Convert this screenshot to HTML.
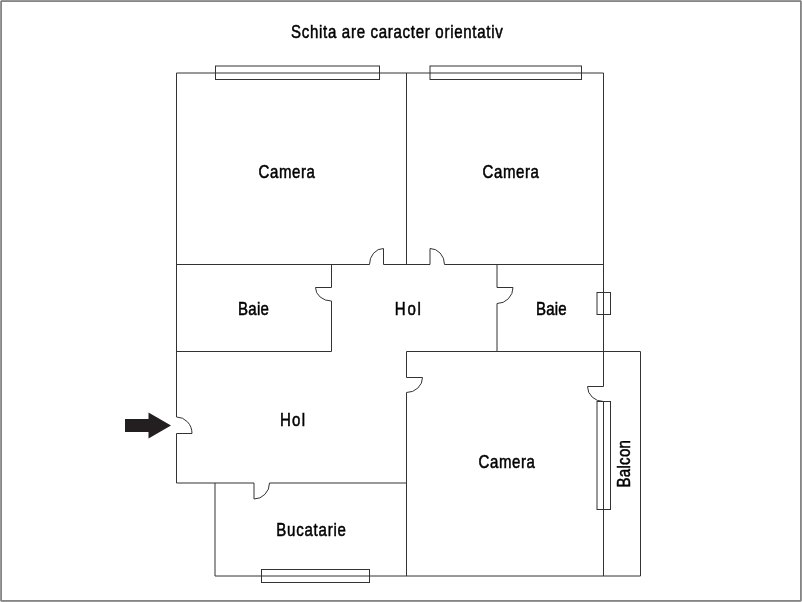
<!DOCTYPE html>
<html><head><meta charset="utf-8"><style>
html,body{margin:0;padding:0;background:#fff;}
body{width:802px;height:602px;overflow:hidden;}
svg{display:block;will-change:transform;}
text{font-family:"Liberation Sans",sans-serif;font-size:17.5px;fill:#000;stroke:#000;stroke-width:0.5px;}
</style></head><body>
<svg width="802" height="602" viewBox="0 0 802 602">
<rect x="0.5" y="0.5" width="801" height="601" fill="#fff" stroke="#979797" stroke-width="1"/><rect x="1.5" y="1.5" width="799" height="599" fill="none" stroke="#858585" stroke-width="1"/><g fill="#e8e8e8"><rect x="0" y="0" width="1" height="1"/><rect x="801" y="0" width="1" height="1"/><rect x="0" y="601" width="1" height="1"/><rect x="801" y="601" width="1" height="1"/></g>
<g fill="none" stroke="#333" stroke-width="1">
<path d="M176.5 73L603.5 73M176.5 73L176.5 417M176.5 433.5L176.5 483M603.5 73L603.5 386.5M603.5 401.5L603.5 576M406.5 73L406.5 264.5M176.5 264.5L369.5 264.5M383.5 264.5L430 264.5M444.5 264.5L603.5 264.5M331.5 264.5L331.5 287.5M331.5 301L331.5 351.5M176.5 351.5L331.5 351.5M497 264.5L497 287.5M497 303.5L497 351.5M406.5 351.5L640.5 351.5M406.5 351.5L406.5 377.5M406.5 392.5L406.5 576M640.5 351.5L640.5 576M176.5 483L254 483M269.5 483L406.5 483M215 483L215 576M215 576L640.5 576"/>
<rect x="215.5" y="66" width="164.0" height="13.5"/><rect x="430" y="66" width="151.5" height="13.5"/><rect x="597" y="292.5" width="13.5" height="22.0"/><rect x="597" y="401.5" width="13.5" height="108.0"/><rect x="261.5" y="569.5" width="108.0" height="13.0"/>
<path d="M383.5 264.5L383.5 248.5A14.0 16.0 0 0 0 369.5 264.5M430 264.5L430 248.5A14.5 16.0 0 0 1 444.5 264.5M331.5 287.5L315.5 287.5A16.0 13.5 0 0 0 331.5 301M497 287.5L513 287.5A16 16.0 0 0 1 497 303.5M406.5 377.5L422.5 377.5A16.0 15.0 0 0 1 406.5 392.5M603.5 386.5L587.5 386.5A16.0 15.0 0 0 0 603.5 401.5M176.5 433.5L192 433.5A15.5 16.5 0 0 0 176.5 417M254 483L254 499A15.5 16 0 0 0 269.5 483"/>
</g>
<path d="M125 419H148.5V412.5L171 425.5L148.5 438.5V432H125Z" fill="#231f20"/>
<text x="0" y="0" textLength="246.16" lengthAdjust="spacing" transform="translate(291 37.6) scale(0.86 1)">Schita are caracter orientativ</text><text x="0" y="0" textLength="65.47" lengthAdjust="spacing" transform="translate(258.6 178.2) scale(0.86 1)">Camera</text><text x="0" y="0" textLength="65.47" lengthAdjust="spacing" transform="translate(482.6 178.2) scale(0.86 1)">Camera</text><text x="0" y="0" textLength="36.05" lengthAdjust="spacing" transform="translate(238 314.8) scale(0.86 1)">Baie</text><text x="0" y="0" textLength="30.35" lengthAdjust="spacing" transform="translate(394.8 314.8) scale(0.86 1)">Hol</text><text x="0" y="0" textLength="35.47" lengthAdjust="spacing" transform="translate(536 314.8) scale(0.86 1)">Baie</text><text x="0" y="0" textLength="28.95" lengthAdjust="spacing" transform="translate(280.1 425.7) scale(0.86 1)">Hol</text><text x="0" y="0" textLength="65.47" lengthAdjust="spacing" transform="translate(478.6 467.8) scale(0.86 1)">Camera</text><text x="0" y="0" textLength="80.93" lengthAdjust="spacing" transform="translate(276.3 535.8) scale(0.86 1)">Bucatarie</text><text x="0" y="0" textLength="55.35" lengthAdjust="spacing" transform="translate(630.3 487.6) rotate(-90) scale(0.86 1)">Balcon</text>
</svg>
</body></html>
